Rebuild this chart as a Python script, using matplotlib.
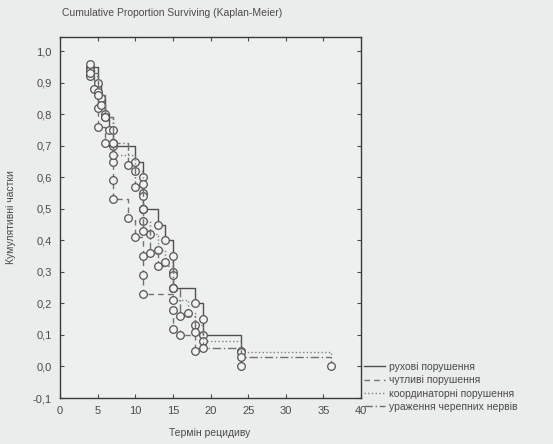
import matplotlib.pyplot as plt
from matplotlib.ticker import FuncFormatter

plt.rcParams['font.family'] = ['Liberation Sans', 'DejaVu Sans']

# Дані: (час події, кумулятивна частка) для кожної групи
motor_t = [4, 5, 5.5, 6, 6.5, 7, 10, 11, 11, 11, 13, 14, 15, 15, 15, 18, 19, 19, 24, 24]
motor_s = [0.95, 0.90, 0.85, 0.80, 0.75, 0.70, 0.65, 0.60, 0.55, 0.50, 0.45, 0.40,
           0.35, 0.30, 0.25, 0.20, 0.15, 0.10, 0.05, 0.00]

sens_t = [4, 4.5, 5, 5, 6, 7, 7, 7, 9, 10, 11, 11, 11, 15, 15, 16, 18]
sens_s = [0.94, 0.88, 0.82, 0.76, 0.71, 0.65, 0.59, 0.53, 0.47, 0.41, 0.35, 0.29,
          0.23, 0.18, 0.12, 0.10, 0.05]

coord_t = [4, 4, 5, 5.5, 6, 7, 7, 7, 10, 11, 11, 11, 11, 12, 13, 14, 15, 15, 15,
           17, 18, 19, 24, 36]
coord_s = [0.96, 0.92, 0.87, 0.83, 0.79, 0.75, 0.71, 0.67, 0.62, 0.58, 0.54, 0.50,
           0.46, 0.42, 0.37, 0.33, 0.29, 0.25, 0.21, 0.17, 0.13, 0.08, 0.047, 0.00]

nerve_t = [4, 5, 6, 7, 9, 10, 11, 11, 12, 13, 15, 16, 18, 19, 24]
nerve_s = [0.93, 0.86, 0.79, 0.71, 0.64, 0.57, 0.50, 0.43, 0.36, 0.32, 0.25, 0.16,
           0.11, 0.06, 0.03]
nerve_end = 36

labels = ['рухові порушення', 'чутливі порушення',
          'координаторні порушення', 'ураження черепних нервів']

bg = '#ebedec'
ink = '#4a4a4a'

fig = plt.figure(figsize=(5.53, 4.44), dpi=100, facecolor=bg)
ax = fig.add_axes([60 / 553, 1 - 398 / 444, 301 / 553, 361 / 444], facecolor='#eef0ef')

series = [
    (motor_t, motor_s, '-', '#505050', None),
    (sens_t, sens_s, (0, (4, 3)), '#707070', None),
    (coord_t, coord_s, ':', '#808080', None),
    (nerve_t, nerve_s, (0, (6, 2, 1, 2)), '#707070', nerve_end),
]

handles = []
for t, s, ls, col, end in series:
    tt = list(t)
    ss = list(s)
    if end is not None:
        tt = tt + [end]
        ss = ss + [ss[-1]]
    ln, = ax.step(tt, ss, where='post', ls=ls, color=col, lw=1.0)
    ax.plot(t, s, 'o', ms=5.5, mfc='#f2f3f2', mec='#555555', mew=0.9)
    handles.append(ln)

ax.set_xlim(0, 40)
ax.set_ylim(-0.1, 1.045)
ax.set_xticks(range(0, 41, 5))
ax.set_yticks([i / 10 for i in range(-1, 11)])
ax.yaxis.set_major_formatter(FuncFormatter(lambda v, p: f'{v:.1f}'.replace('.', ',')))
ax.tick_params(direction='in', top=True, right=True, length=3, width=0.8,
               labelsize=8, colors=ink, pad=6)
for sp in ax.spines.values():
    sp.set_color('#3a3a3a')
    sp.set_linewidth(1.0)

ax.set_ylabel('Кумулятивні частки', fontsize=7.5, color=ink, labelpad=12)
fig.text(210 / 553, 1 - 433 / 444, 'Термін рецидиву', fontsize=7.5, color=ink,
         ha='center', va='center')
fig.text(62 / 553, 1 - 13 / 444, 'Cumulative Proportion Surviving (Kaplan-Meier)',
         fontsize=7.5, color=ink, ha='left', va='center')

fig.legend(handles, labels, loc='upper left', bbox_to_anchor=(364 / 553, 1 - 362 / 444),
           frameon=False, fontsize=7.5, labelcolor=ink, handlelength=2.0,
           handletextpad=0.4, labelspacing=0.32, borderaxespad=0, borderpad=0)

fig.savefig('out.png', dpi=100, facecolor=bg)
